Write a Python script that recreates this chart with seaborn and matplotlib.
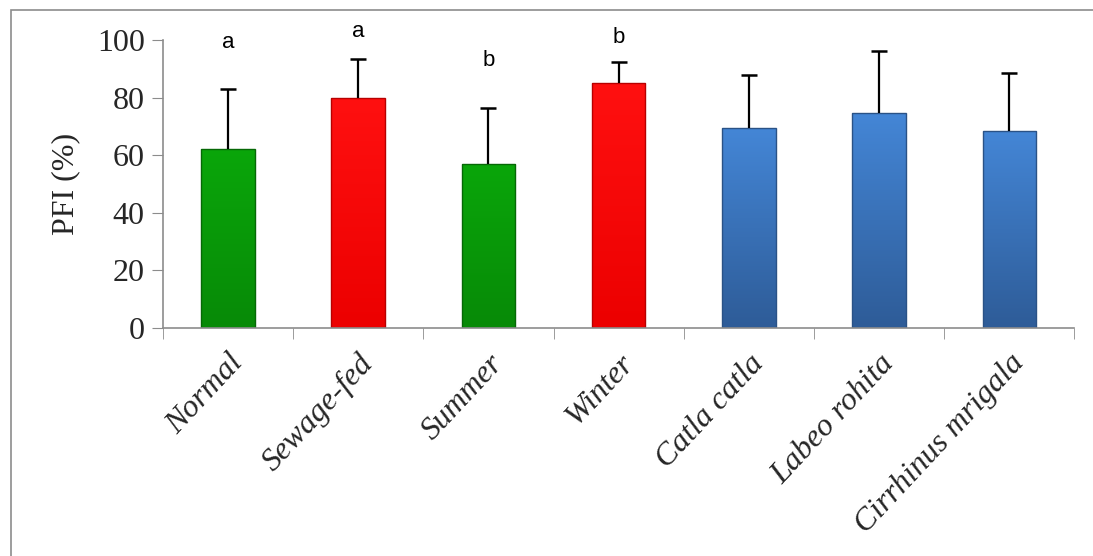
import numpy as np
import matplotlib
matplotlib.use("Agg")
import matplotlib.pyplot as plt
import matplotlib.patches as mpatches
from matplotlib.colors import LinearSegmentedColormap
import seaborn as sns

# =========================
# DATA
# =========================
categories = ["Normal", "Sewage-fed", "Summer", "Winter",
              "Catla catla", "Labeo rohita", "Cirrhinus mrigala"]
pfi_mean = [62, 80, 57, 85, 69.5, 74.8, 68.5]
pfi_err = [21, 13.3, 19.3, 7.5, 18.5, 21.5, 20.1]
letters = ["a", "a", "b", "b", "", "", ""]
letter_y = [99, 103, 93, 101, 0, 0, 0]

bar_colors = ["#089c08", "#ff0505", "#089c08", "#ff0505",
              "#3a78c4", "#3a78c4", "#3a78c4"]
edge_colors = ["#066806", "#b80000", "#066806", "#b80000",
               "#2a5286", "#2a5286", "#2a5286"]
grad_top = ["#0aa60a", "#ff1010", "#0aa60a", "#ff1010",
            "#4486d6", "#4486d6", "#4486d6"]
grad_bot = ["#078a07", "#ec0000", "#078a07", "#ec0000",
            "#2e5c98", "#2e5c98", "#2e5c98"]

# =========================
# FIGURE
# =========================
sns.set_style("white")
plt.rcParams["font.family"] = ["Liberation Serif", "DejaVu Serif"]

fig = plt.figure(figsize=(10.93, 5.56), dpi=100)
ax = fig.add_axes([0.149, 0.41, 0.834, 0.518])

sns.barplot(
    x=categories,
    y=pfi_mean,
    hue=categories,
    palette=bar_colors,
    legend=False,
    width=0.41,
    errorbar=None,
    ax=ax
)

# gradient fill for each bar
for i, patch in enumerate(ax.patches):
    patch.set_edgecolor(edge_colors[i])
    patch.set_linewidth(1.0)
    x0, y0 = patch.get_x(), patch.get_y()
    w, h = patch.get_width(), patch.get_height()
    cmap = LinearSegmentedColormap.from_list("g", [grad_bot[i], grad_top[i]])
    grad = np.linspace(0, 1, 100).reshape(-1, 1)
    im = ax.imshow(grad, cmap=cmap, origin="lower", aspect="auto",
                   extent=[x0, x0 + w, y0, y0 + h], zorder=patch.get_zorder())
    im.set_clip_path(patch)
    patch.set_zorder(patch.get_zorder() + 0.1)
    patch.set_facecolor("none")

# upper error bars only
xpos = np.arange(len(categories))
_, caps, _ = ax.errorbar(
    xpos, pfi_mean,
    yerr=[np.zeros(len(pfi_err)), pfi_err],
    fmt="none", ecolor="black", elinewidth=1.6,
    capsize=6, capthick=1.8, zorder=5
)
caps[0].set_visible(False)

# significance letters
for i, t in enumerate(letters):
    if t:
        ax.text(i, letter_y[i], t, ha="center", va="center",
                fontsize=16, family="Liberation Sans", color="black")

# =========================
# AXES STYLE
# =========================
ax.set_xlim(-0.5, len(categories) - 0.5)
ax.set_ylim(0, 100)
ax.set_yticks([0, 20, 40, 60, 80, 100])
ax.tick_params(axis="y", labelsize=23, length=8, color="#8c8c8c",
               direction="out", left=True, pad=5)

ax.set_xticks(xpos)
ax.set_xticklabels(categories, rotation=47, ha="right",
                   rotation_mode="anchor", fontsize=23, style="italic")
ax.tick_params(axis="x", which="major", length=0, pad=15)
ax.set_xticks(np.arange(-0.5, len(categories)), minor=True)
ax.tick_params(axis="x", which="minor", length=8, color="#8c8c8c",
               direction="out", bottom=True)

for s in ["top", "right"]:
    ax.spines[s].set_visible(False)
for s in ["left", "bottom"]:
    ax.spines[s].set_color("#8c8c8c")
    ax.spines[s].set_linewidth(1.2)

ax.set_xlabel("")
ax.set_ylabel("PFI (%)", fontsize=23, labelpad=12)

# outer frame
frame = mpatches.Rectangle((11 / 1093, -0.1), 1.2, 1 - 10 / 556 + 0.1,
                           transform=fig.transFigure, fill=False,
                           edgecolor="#8c8c8c", linewidth=1.2)
fig.patches.append(frame)

plt.savefig("out.png", dpi=100)
